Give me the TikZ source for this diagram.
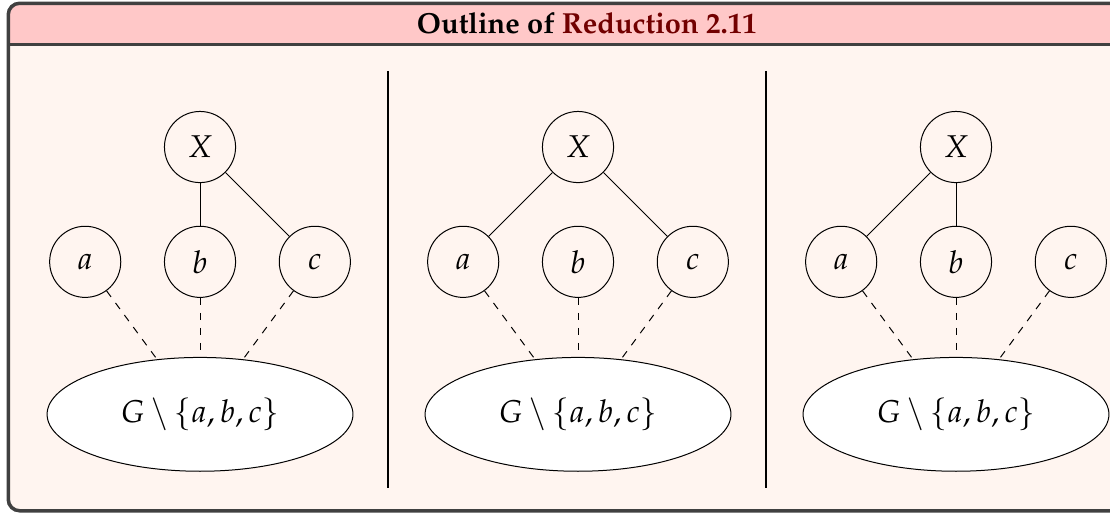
\documentclass[tikz,border=0pt]{standalone}
\usepackage[T1]{fontenc}
\usepackage{mathpazo}
\usepackage{xcolor}
\definecolor{boxFrame}{HTML}{404040}
\definecolor{boxTitle}{HTML}{FFC8C8}
\definecolor{boxBack}{HTML}{FFF5F0}
\definecolor{redTitle}{HTML}{720000}
\usetikzlibrary{positioning,shapes.geometric}

\begin{document}
\begin{tikzpicture}[
      node distance=0.6cm,
      vertex/.style={circle, draw, fill=boxBack, minimum size=1cm, inner sep=0pt,
                     font=\fontsize{12.6}{15}\selectfont},
      rest/.style={ellipse, draw, fill=white, minimum width=4.3cm, minimum height=1.6cm,
                   font=\fontsize{12.6}{15}\selectfont},
      edge/.style={thin},
      link/.style={thin, dashed}
    ]
    \useasboundingbox (0,0) rectangle (15.605,-7.226);
    % frame of the box
    \fill[boxBack, rounded corners=1.6mm] (0.116,-0.046) rectangle (16.4,-7.181);
    \fill[boxTitle, rounded corners=1.6mm] (0.116,-0.046) rectangle (16.4,-0.8);
    \fill[boxBack] (0.116,-0.626) rectangle (16.4,-1.0);
    \draw[boxFrame, line width=1.4pt, rounded corners=1.6mm] (0.116,-0.046) rectangle (16.4,-7.181);
    \draw[boxFrame, line width=1.4pt] (0.116,-0.626) -- (16.4,-0.626);
    \node[font=\fontsize{11.6}{14}\selectfont\bfseries] (title) at (8.25,-0.33) {Outline of \textcolor{redTitle}{Reduction 2.11}};

    % separators
    \draw[thick] (5.455,-0.998) -- (5.455,-6.861);
    \draw[thick] (10.769,-0.998) -- (10.769,-6.861);

    % the three cases
    \foreach \i/\p/\q in {0/b/c, 1/a/c, 2/a/b}{
      \node[vertex] (X\i) at ({2.812+5.314*\i},-2.067) {$X$};
      \node[vertex, below=of X\i] (b\i) {$b$};
      \node[vertex, left=of b\i] (a\i) {$a$};
      \node[vertex, right=of b\i] (c\i) {$c$};
      \node[rest, below=0.83cm of b\i] (G\i) {$G\setminus\{a,b,c\}$};
      \draw[edge] (X\i) -- (\p\i);
      \draw[edge] (X\i) -- (\q\i);
      \draw[link] (a\i) -- (G\i.128);
      \draw[link] (b\i) -- (G\i.90);
      \draw[link] (c\i) -- (G\i.52);
    }
  \end{tikzpicture}
\end{document}
